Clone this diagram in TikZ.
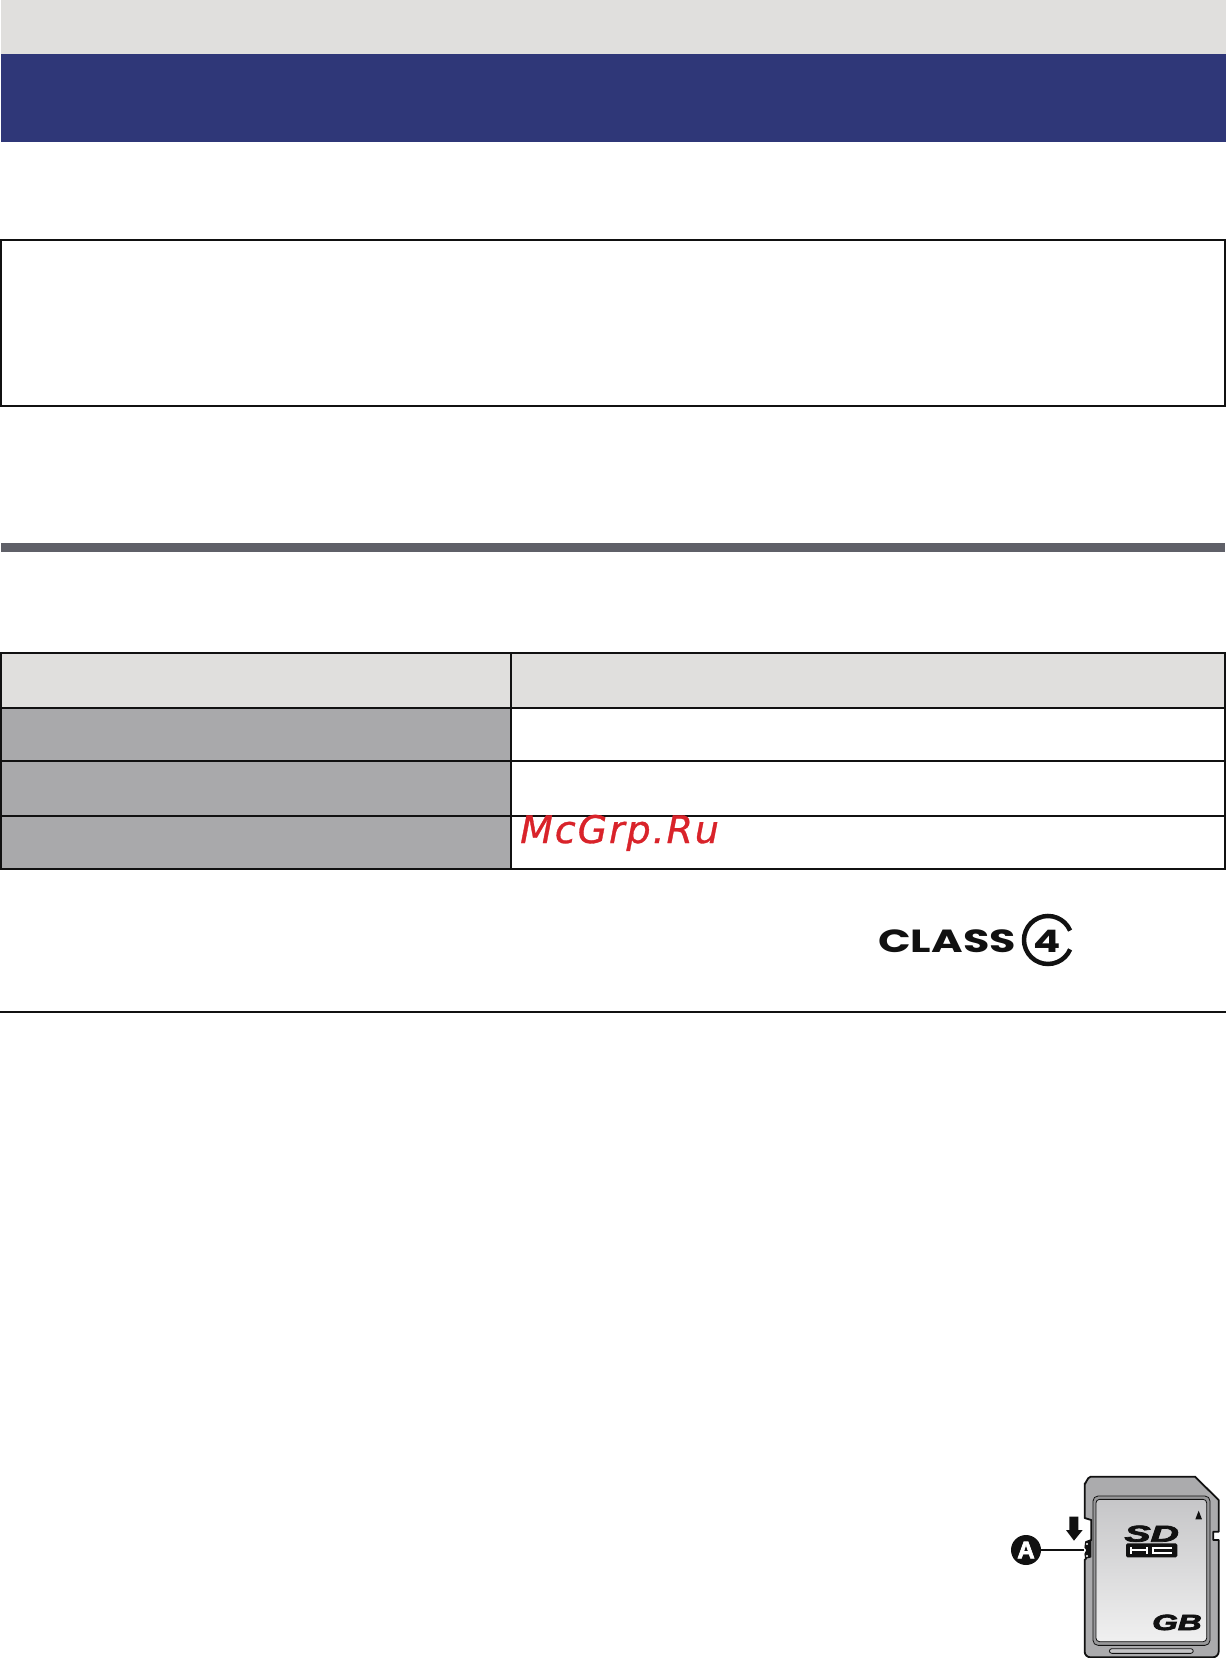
\documentclass[tikz,border=0pt]{standalone}
\usepackage{fontspec}
\setmainfont{Liberation Sans}
\newfontfamily\wmfont[LetterSpace=5,FakeBold=0.8]{DejaVu Sans}
\newfontfamily\logofont{Poppins}
\newfontfamily\heavyfont[FakeBold=3]{Liberation Sans}
\usetikzlibrary{arrows.meta}
\definecolor{bandgray}{HTML}{E0DFDD}
\definecolor{bandblue}{HTML}{2F3778}
\definecolor{rulegray}{HTML}{5F6068}
\definecolor{cellgray}{HTML}{A9A9AB}
\definecolor{ink}{HTML}{111111}
\definecolor{wmred}{HTML}{D9232A}
\definecolor{cardgray}{HTML}{ABABAD}
\definecolor{labelrim}{HTML}{98989A}
\definecolor{labeltop}{HTML}{C6C6C8}
\definecolor{labelbot}{HTML}{F0F0F0}
\tikzset{
  x=1pt,y=-1pt,
  band/.style={fill=#1,draw=none},
  tline/.style={draw=ink,line width=2pt},
  cardline/.style={draw=ink,line width=1.8pt,line join=round},
  thinline/.style={draw=ink,line width=0.8pt,line join=round},
  logotext/.style={inner sep=0pt,text=ink,font={\fontsize{#1}{#1}\selectfont\logofont\bfseries}},
  cardtext/.style={inner sep=0pt,text=ink,font={\fontsize{#1}{#1}\selectfont\heavyfont\bfseries\itshape}},
}
\begin{document}
\begin{tikzpicture}
\useasboundingbox (0,0) rectangle (1226,1658);
\fill[white] (0,0) rectangle (1226,1658);
% top bands
\path[band=bandgray] (1,0) rectangle (1226,54);
\path[band=bandblue] (1,54) rectangle (1226,142);
% framed box
\draw[draw=ink,line width=2pt] (1,240) rectangle (1225,406);
% thick rule
\path[band=rulegray] (1,543) rectangle (1225,552);
% table
\path[band=bandgray] (1,653) rectangle (1225,708);
\path[band=cellgray] (1,708) rectangle (511,869);
\draw[tline] (0,653) -- (1226,653);
\draw[tline] (0,708) -- (1226,708);
\draw[tline] (0,761) -- (1226,761);
\draw[tline] (0,816) -- (1226,816);
\draw[tline] (0,869) -- (1226,869);
\draw[tline] (511,653) -- (511,869);
\draw[tline] (0.5,653) -- (0.5,869);
\draw[tline] (1225,653) -- (1225,869);
% watermark
\node[anchor=base west,inner sep=0pt,text=wmred,font={\fontsize{38}{38}\selectfont\wmfont\itshape}] (wm) at (520,843) {McGrp.Ru};
% separator
\draw[draw=ink,line width=2pt] (0,1012) -- (1226,1012);
% class logo
\node[logotext=32,anchor=base west,xscale=1.34] (cl) at (878,952) {CLASS};
\draw[ink,line width=4.5pt] (1070.1,930.6) arc[start angle=23,end angle=337,radius=24pt];
\node[logotext=31,anchor=base,xscale=1.3] (four) at (1047,952) {4};
% SD card, in 1/3 px units
\begin{scope}[shift={(990,1460)},x=0.33333pt,y=-0.33333pt]
\draw[cardline,fill=cardgray]
  (284,70) to[out=-90,in=180] (302,50) -- (615,50) -- (686,120) -- (686,215)
  -- (670,215) -- (670,240) -- (686,240) -- (686,575)
  to[out=-90,in=0] (668,592) -- (302,592) to[out=180,in=-90] (284,575)
  -- (284,300) -- (288,296) -- (286,282) -- (292,270) -- (286,262) -- (288,246)
  -- (304,240) -- (304,180) -- (284,174) -- cycle;
\fill[ink] (304,240) -- (288,246) -- (286,262) -- (292,270) -- (286,282) -- (288,296) -- (304,292) -- cycle;
\fill[white] (291,252) circle[radius=1.2pt] (291,288) circle[radius=1.2pt];
\draw[thinline,fill=labelrim,rounded corners=5pt] (309,108) rectangle (660,556);
\draw[thinline,top color=labeltop,bottom color=labelbot,rounded corners=3.5pt] (318,118) rectangle (650,545);
\draw[thinline,fill=cardgray!70!white,rounded corners=2.5pt] (358,566) rectangle (610,580);
\fill[ink] (616,178) -- (636,178) -- (626,152) -- cycle;
% SD mark
\node[cardtext=23,anchor=base,xscale=1.7] (sd) at (485,245) {SD};
\fill[ink,rounded corners=1.5pt] (408,250) rectangle (562,292);
\draw[white,line width=2pt]
  (424,261) -- (424,282) (472,261) -- (472,282) (424,271) -- (472,271)
  (546,263) -- (490,263) -- (490,280) -- (546,280);
\node[cardtext=22,anchor=base east,xscale=1.5] (gb) at (636,510) {GB};
% arrow
\fill[ink] (238,170) -- (265,170) -- (265,210) -- (278,210) -- (252,242) -- (228,210) -- (238,210) -- cycle;
% callout
\node[circle,fill=ink,text=white,inner sep=0pt,minimum size=30pt,font={\fontsize{24}{24}\selectfont\heavyfont\bfseries}] (a) at (108,270) {A};
\coordinate (lock) at (282,270);
\draw[ink,line width=1.2pt] (a) -- (lock);
\end{scope}
\end{tikzpicture}
\end{document}
